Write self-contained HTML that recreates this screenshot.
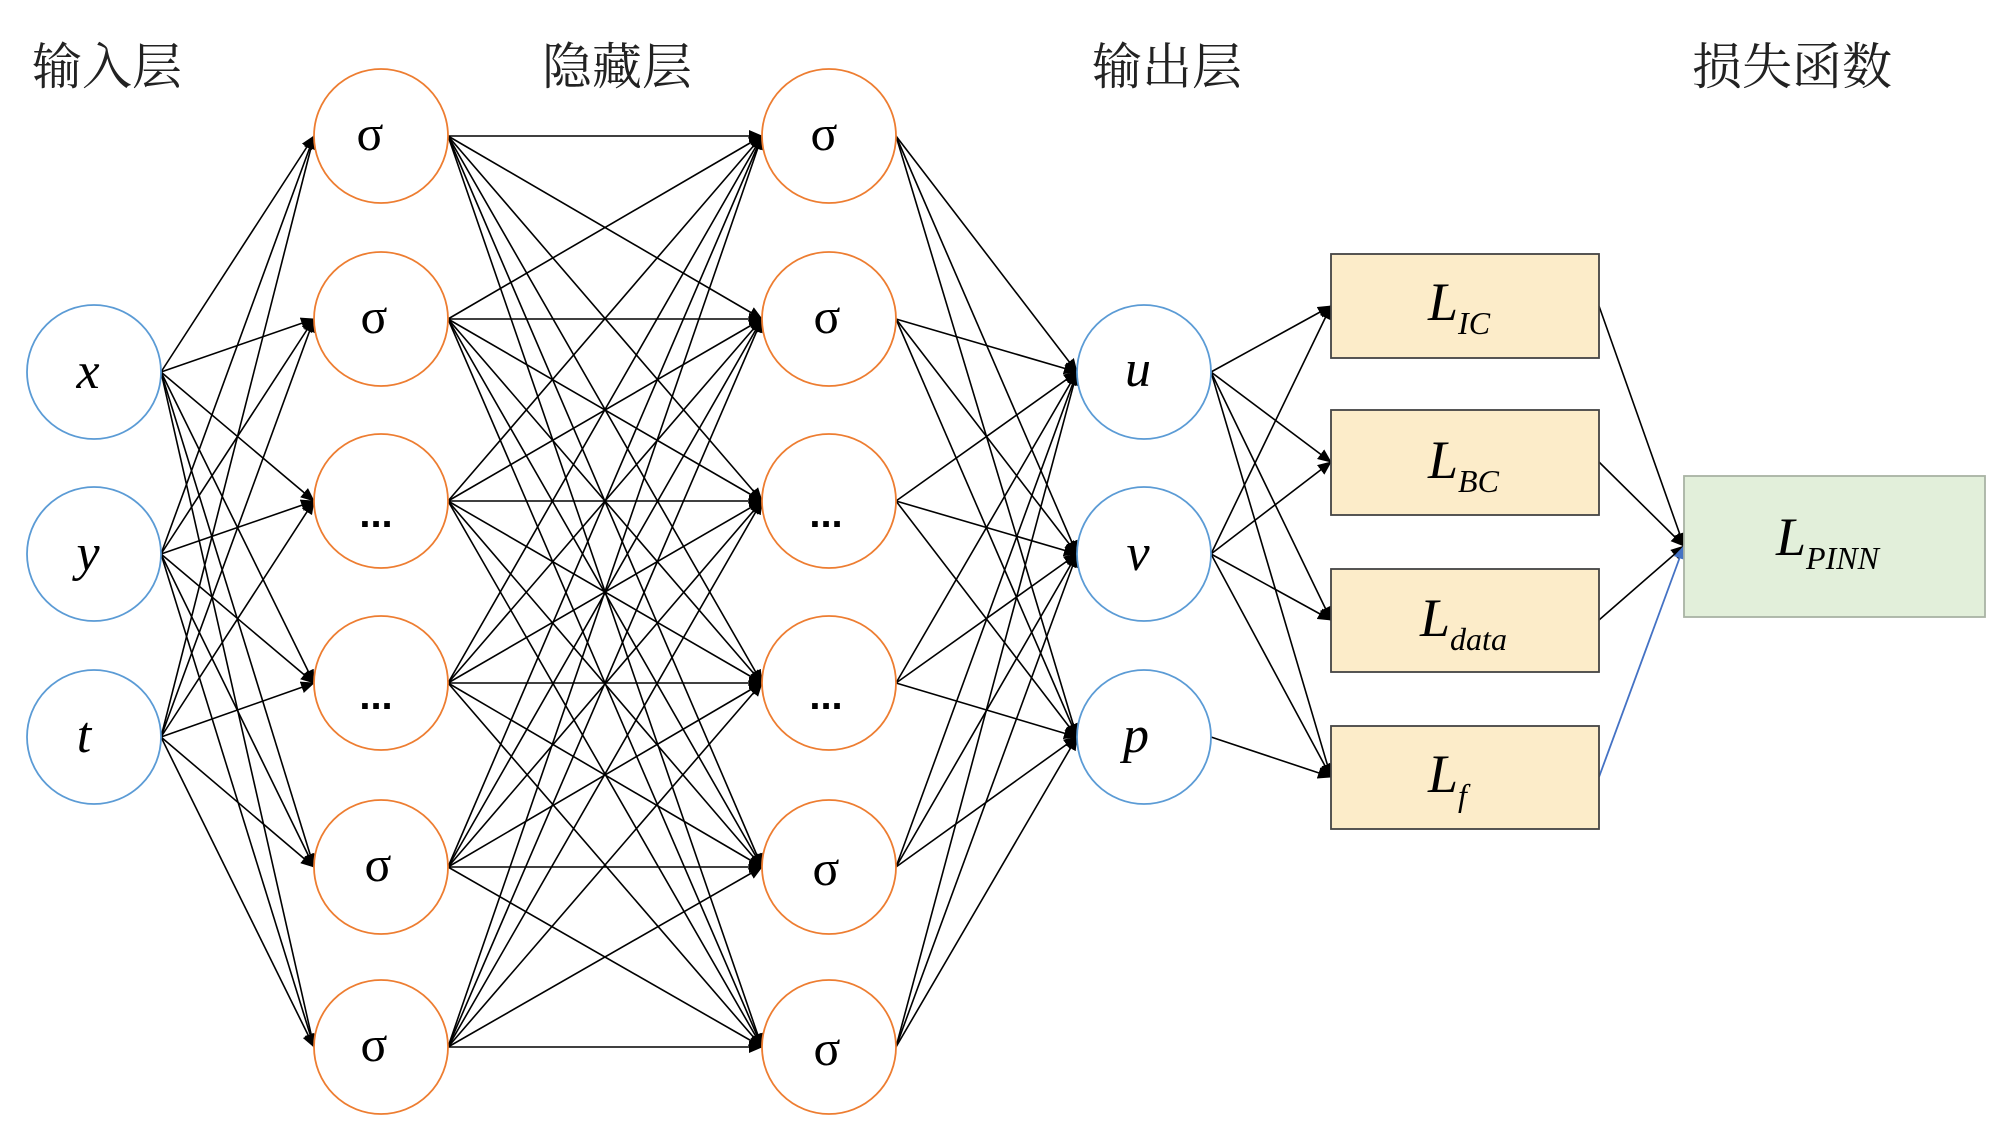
<!DOCTYPE html>
<html><head><meta charset="utf-8"><style>
html,body{margin:0;padding:0;background:#fff;}
svg{display:block}
.t{font-family:"Liberation Serif","Noto Serif CJK SC","Noto Sans CJK SC",serif;font-size:50px;fill:#222}
.n{font-family:"Liberation Serif",serif;font-size:52px;font-style:italic;fill:#000}
.s{font-family:"Liberation Serif",serif;font-size:50px;fill:#000}
.d{font-family:"Liberation Sans",sans-serif;font-size:40px;font-weight:bold;fill:#000}
.L{font-family:"Liberation Serif",serif;font-size:54px;font-style:italic;fill:#000}
.sub{font-size:32px}
</style></head><body>
<svg width="2000" height="1137" viewBox="0 0 2000 1137" xmlns="http://www.w3.org/2000/svg">
<defs>
<marker id="a" markerUnits="userSpaceOnUse" markerWidth="14" markerHeight="12" refX="13" refY="6" orient="auto"><path d="M0,0 L14,6 L0,12 z" fill="#000"/></marker>
<marker id="b" markerUnits="userSpaceOnUse" markerWidth="14" markerHeight="12" refX="13" refY="6" orient="auto"><path d="M0,0 L14,6 L0,12 z" fill="#4472c4"/></marker>
</defs>
<text class="t" x="32" y="84">输入层</text>
<text class="t" x="542" y="84">隐藏层</text>
<text class="t" x="1092" y="84">输出层</text>
<text class="t" x="1692" y="84">损失函数</text>
<g stroke="#000" stroke-width="1.6" marker-end="url(#a)">
<!-- input -> hidden1 -->
<line x1="161" y1="372" x2="314" y2="136"/><line x1="161" y1="372" x2="314" y2="319"/><line x1="161" y1="372" x2="314" y2="501"/><line x1="161" y1="372" x2="314" y2="683"/><line x1="161" y1="372" x2="314" y2="867"/><line x1="161" y1="372" x2="314" y2="1047"/>
<line x1="161" y1="554" x2="314" y2="136"/><line x1="161" y1="554" x2="314" y2="319"/><line x1="161" y1="554" x2="314" y2="501"/><line x1="161" y1="554" x2="314" y2="683"/><line x1="161" y1="554" x2="314" y2="867"/><line x1="161" y1="554" x2="314" y2="1047"/>
<line x1="161" y1="737" x2="314" y2="136"/><line x1="161" y1="737" x2="314" y2="319"/><line x1="161" y1="737" x2="314" y2="501"/><line x1="161" y1="737" x2="314" y2="683"/><line x1="161" y1="737" x2="314" y2="867"/><line x1="161" y1="737" x2="314" y2="1047"/>
<!-- hidden1 -> hidden2 -->
<line x1="448" y1="136" x2="762" y2="136"/><line x1="448" y1="136" x2="762" y2="319"/><line x1="448" y1="136" x2="762" y2="501"/><line x1="448" y1="136" x2="762" y2="683"/><line x1="448" y1="136" x2="762" y2="867"/><line x1="448" y1="136" x2="762" y2="1047"/>
<line x1="448" y1="319" x2="762" y2="136"/><line x1="448" y1="319" x2="762" y2="319"/><line x1="448" y1="319" x2="762" y2="501"/><line x1="448" y1="319" x2="762" y2="683"/><line x1="448" y1="319" x2="762" y2="867"/><line x1="448" y1="319" x2="762" y2="1047"/>
<line x1="448" y1="501" x2="762" y2="136"/><line x1="448" y1="501" x2="762" y2="319"/><line x1="448" y1="501" x2="762" y2="501"/><line x1="448" y1="501" x2="762" y2="683"/><line x1="448" y1="501" x2="762" y2="867"/><line x1="448" y1="501" x2="762" y2="1047"/>
<line x1="448" y1="683" x2="762" y2="136"/><line x1="448" y1="683" x2="762" y2="319"/><line x1="448" y1="683" x2="762" y2="501"/><line x1="448" y1="683" x2="762" y2="683"/><line x1="448" y1="683" x2="762" y2="867"/><line x1="448" y1="683" x2="762" y2="1047"/>
<line x1="448" y1="867" x2="762" y2="136"/><line x1="448" y1="867" x2="762" y2="319"/><line x1="448" y1="867" x2="762" y2="501"/><line x1="448" y1="867" x2="762" y2="683"/><line x1="448" y1="867" x2="762" y2="867"/><line x1="448" y1="867" x2="762" y2="1047"/>
<line x1="448" y1="1047" x2="762" y2="136"/><line x1="448" y1="1047" x2="762" y2="319"/><line x1="448" y1="1047" x2="762" y2="501"/><line x1="448" y1="1047" x2="762" y2="683"/><line x1="448" y1="1047" x2="762" y2="867"/><line x1="448" y1="1047" x2="762" y2="1047"/>
<!-- hidden2 -> output -->
<line x1="896" y1="136" x2="1077" y2="372"/><line x1="896" y1="136" x2="1077" y2="554"/><line x1="896" y1="136" x2="1077" y2="737"/>
<line x1="896" y1="319" x2="1077" y2="372"/><line x1="896" y1="319" x2="1077" y2="554"/><line x1="896" y1="319" x2="1077" y2="737"/>
<line x1="896" y1="501" x2="1077" y2="372"/><line x1="896" y1="501" x2="1077" y2="554"/><line x1="896" y1="501" x2="1077" y2="737"/>
<line x1="896" y1="683" x2="1077" y2="372"/><line x1="896" y1="683" x2="1077" y2="554"/><line x1="896" y1="683" x2="1077" y2="737"/>
<line x1="896" y1="867" x2="1077" y2="372"/><line x1="896" y1="867" x2="1077" y2="554"/><line x1="896" y1="867" x2="1077" y2="737"/>
<line x1="896" y1="1047" x2="1077" y2="372"/><line x1="896" y1="1047" x2="1077" y2="554"/><line x1="896" y1="1047" x2="1077" y2="737"/>
<!-- output -> losses -->
<line x1="1211" y1="372" x2="1331" y2="306"/><line x1="1211" y1="372" x2="1331" y2="462"/><line x1="1211" y1="372" x2="1331" y2="620"/><line x1="1211" y1="372" x2="1331" y2="777"/>
<line x1="1211" y1="554" x2="1331" y2="306"/><line x1="1211" y1="554" x2="1331" y2="462"/><line x1="1211" y1="554" x2="1331" y2="620"/><line x1="1211" y1="554" x2="1331" y2="777"/>
<line x1="1211" y1="737" x2="1331" y2="777"/>
<!-- losses -> PINN -->
<line x1="1599" y1="306" x2="1684" y2="546"/><line x1="1599" y1="462" x2="1684" y2="546"/><line x1="1599" y1="620" x2="1684" y2="546"/>
</g>
<line x1="1599" y1="777" x2="1684" y2="546" stroke="#4472c4" stroke-width="1.8" marker-end="url(#b)"/>
<g fill="#fff" stroke="#5b9bd5" stroke-width="1.8">
<ellipse cx="94" cy="372" rx="67" ry="67"/><ellipse cx="94" cy="554" rx="67" ry="67"/><ellipse cx="94" cy="737" rx="67" ry="67"/>
<ellipse cx="1144" cy="372" rx="67" ry="67"/><ellipse cx="1144" cy="554" rx="67" ry="67"/><ellipse cx="1144" cy="737" rx="67" ry="67"/>
</g>
<g fill="#fff" stroke="#ed7d31" stroke-width="1.8">
<ellipse cx="381" cy="136" rx="67" ry="67"/><ellipse cx="381" cy="319" rx="67" ry="67"/><ellipse cx="381" cy="501" rx="67" ry="67"/><ellipse cx="381" cy="683" rx="67" ry="67"/><ellipse cx="381" cy="867" rx="67" ry="67"/><ellipse cx="381" cy="1047" rx="67" ry="67"/>
<ellipse cx="829" cy="136" rx="67" ry="67"/><ellipse cx="829" cy="319" rx="67" ry="67"/><ellipse cx="829" cy="501" rx="67" ry="67"/><ellipse cx="829" cy="683" rx="67" ry="67"/><ellipse cx="829" cy="867" rx="67" ry="67"/><ellipse cx="829" cy="1047" rx="67" ry="67"/>
</g>
<g text-anchor="middle">
<text class="n" x="88" y="388">x</text><text class="n" x="88" y="570">y</text><text class="n" x="84" y="752">t</text>
<text class="n" x="1138" y="386">u</text><text class="n" x="1138" y="570">v</text><text class="n" x="1136" y="752">p</text>
<text class="s" x="370" y="150">σ</text><text class="s" x="374" y="333">σ</text><text class="d" x="376" y="527">...</text><text class="d" x="376" y="709">...</text><text class="s" x="378" y="881">σ</text><text class="s" x="374" y="1061">σ</text>
<text class="s" x="824" y="150">σ</text><text class="s" x="827" y="333">σ</text><text class="d" x="826" y="527">...</text><text class="d" x="826" y="709">...</text><text class="s" x="826" y="885">σ</text><text class="s" x="827" y="1065">σ</text>
</g>
<g fill="#fcecc9" stroke="#444" stroke-width="1.8">
<rect x="1331" y="254" width="268" height="104"/><rect x="1331" y="410" width="268" height="105"/><rect x="1331" y="569" width="268" height="103"/><rect x="1331" y="726" width="268" height="103"/>
</g>
<rect x="1684" y="476" width="301" height="141" fill="#e2efda" stroke="#a9b3a4" stroke-width="1.8"/>
<text class="L" x="1428" y="320">L<tspan class="sub" dy="14">IC</tspan></text>
<text class="L" x="1428" y="478">L<tspan class="sub" dy="14">BC</tspan></text>
<text class="L" x="1420" y="636">L<tspan class="sub" dy="14">data</tspan></text>
<text class="L" x="1428" y="792">L<tspan class="sub" dy="14">f</tspan></text>
<text class="L" x="1776" y="555">L<tspan class="sub" dy="14">PINN</tspan></text>
</svg>
</body></html>
